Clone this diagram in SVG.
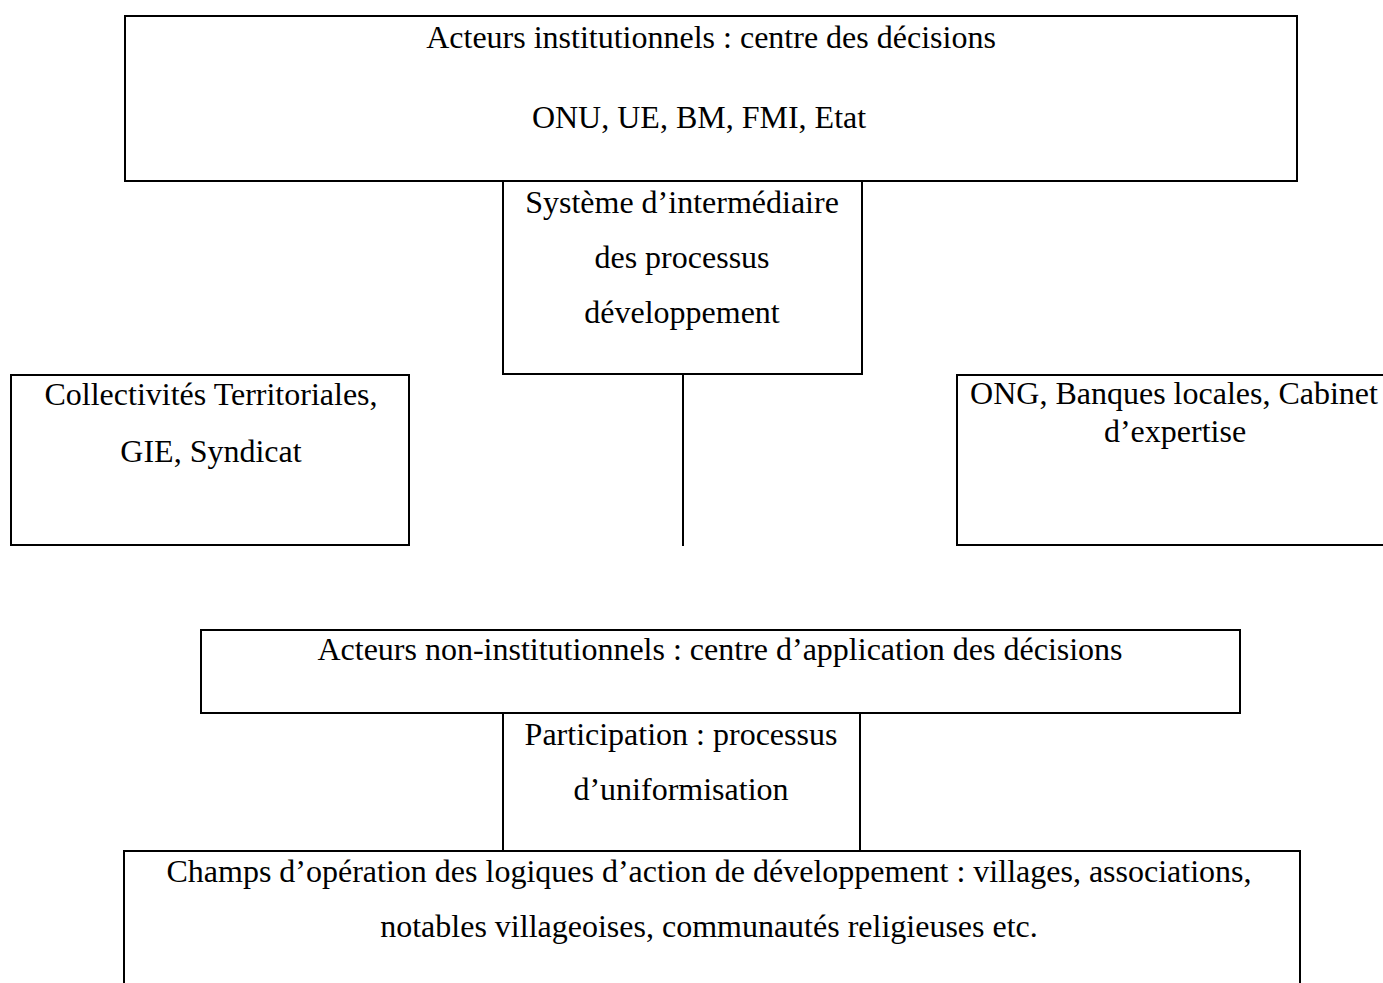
<svg xmlns="http://www.w3.org/2000/svg" width="1383" height="983" viewBox="0 0 1383 983">
<style>
.box{fill:none;stroke:#000;stroke-width:2}
.t{font-family:"Liberation Serif","Times New Roman",serif;font-size:32px;fill:#000;text-anchor:middle}
.c{stroke:#000;stroke-width:2;fill:none}
</style>
<rect width="1383" height="983" fill="#fff"/>
<g id="institutionnels">
<rect class="box" x="125" y="16" width="1172" height="165"/>
<text class="t" x="711" y="48">Acteurs institutionnels : centre des décisions</text>
<text class="t" x="699" y="128">ONU, UE, BM, FMI, Etat</text>
</g>
<g id="intermediaire">
<rect class="box" x="503" y="181" width="359" height="193"/>
<text class="t" x="682" y="213">Système d’intermédiaire</text>
<text class="t" x="682" y="268">des processus</text>
<text class="t" x="682" y="323">développement</text>
</g>
<g id="collectivites">
<rect class="box" x="11" y="375" width="398" height="170"/>
<text class="t" x="211" y="405">Collectivités Territoriales,</text>
<text class="t" x="211" y="462">GIE, Syndicat</text>
</g>
<g id="ong">
<rect class="box" x="957" y="375" width="440" height="170"/>
<text class="t" x="1174" y="404">ONG, Banques locales, Cabinet</text>
<text class="t" x="1175" y="442">d’expertise</text>
</g>
<g id="non-institutionnels">
<rect class="box" x="201" y="630" width="1039" height="83"/>
<text class="t" x="720" y="660">Acteurs non-institutionnels : centre d’application des décisions</text>
</g>
<g id="participation">
<rect class="box" x="503" y="713" width="357" height="138"/>
<text class="t" x="681" y="745">Participation : processus</text>
<text class="t" x="681" y="800">d’uniformisation</text>
</g>
<g id="champs">
<rect class="box" x="124" y="851" width="1176" height="160"/>
<text class="t" x="709" y="882">Champs d’opération des logiques d’action de développement : villages, associations,</text>
<text class="t" x="709" y="937">notables villageoises, communautés religieuses etc.</text>
</g>
<g id="connectors">
<line class="c" x1="683" y1="374" x2="683" y2="546"/>
</g>
</svg>
